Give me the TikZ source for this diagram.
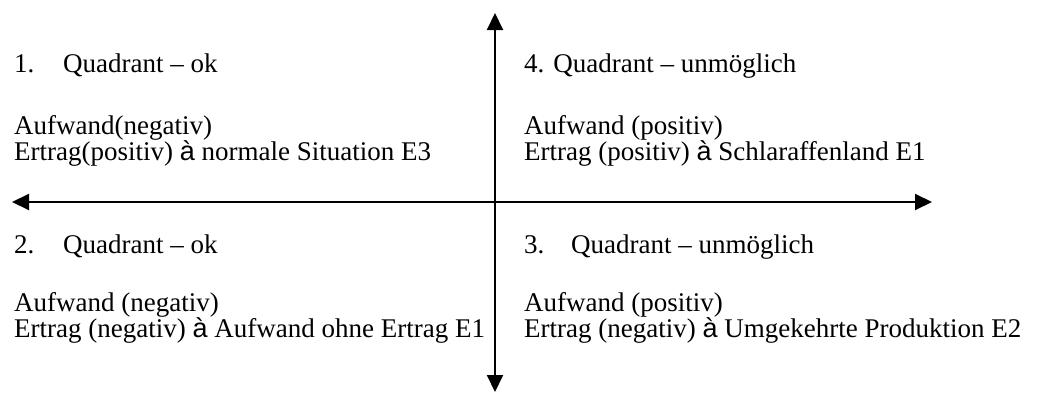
\documentclass[tikz,border=0pt]{standalone}
\usepackage{fontspec}
\setmainfont{Liberation Serif}
\newfontfamily\arrowfont{Liberation Sans}
\usetikzlibrary{arrows.meta}
\newcommand{\arr}{{\arrowfont à}}
\begin{document}
\begin{tikzpicture}[x=1pt,y=-1pt,
  lbl/.style={anchor=base west, inner sep=0pt, font=\fontsize{27}{28}\selectfont},
  axis/.style={line width=2pt, {Triangle[length=17pt,width=16pt]}-{Triangle[length=17pt,width=16pt]}}]
\useasboundingbox (0,0) rectangle (1037,394);
\coordinate (top) at (495,13);
\coordinate (bottom) at (495,392);
\coordinate (left) at (12,202);
\coordinate (right) at (932,202);
\draw[axis] (bottom) -- (top);
\draw[axis] (left) -- (right);
% quadrant 1
\node[lbl] (q1t) at (14,72) {\makebox[49pt][l]{1.}Quadrant – ok};
\node[lbl] (q1a) at (14,134) {Aufwand(negativ)};
\node[lbl] (q1b) at (14,160) {Ertrag(positiv) \arr\ normale Situation E3};
% quadrant 4
\node[lbl] (q4t) at (524,72) {4. Quadrant – unmöglich};
\node[lbl] (q4a) at (524,134) {Aufwand (positiv)};
\node[lbl] (q4b) at (524,160) {Ertrag (positiv) \arr\ Schlaraffenland E1};
% quadrant 2
\node[lbl] (q2t) at (14,253) {\makebox[49pt][l]{2.}Quadrant – ok};
\node[lbl] (q2a) at (14,311) {Aufwand (negativ)};
\node[lbl] (q2b) at (14,337) {Ertrag (negativ) \arr\ Aufwand ohne Ertrag E1};
% quadrant 3
\node[lbl] (q3t) at (524,253) {\makebox[47pt][l]{3.}Quadrant – unmöglich};
\node[lbl] (q3a) at (524,311) {Aufwand (positiv)};
\node[lbl] (q3b) at (524,337) {Ertrag (negativ) \arr\ Umgekehrte Produktion E2};
\end{tikzpicture}
\end{document}
